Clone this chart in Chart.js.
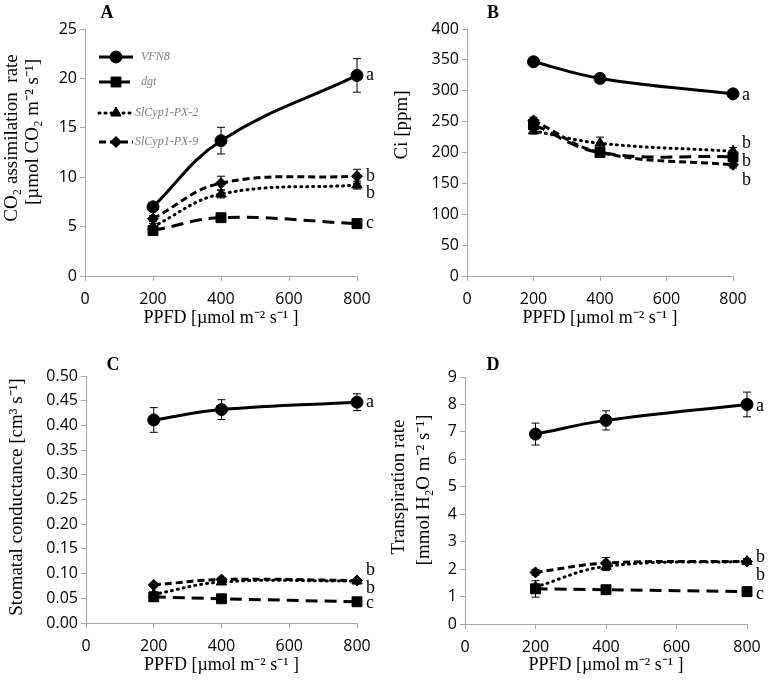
<!DOCTYPE html>
<html><head><meta charset="utf-8">
<script src="https://cdn.jsdelivr.net/npm/chart.js@4.4.0/dist/chart.umd.min.js"></script>
<style>
body{margin:0;background:#fff;width:771px;height:684px;position:relative;overflow:hidden}
.p{position:absolute}
</style></head><body>
<div class="p" style="left:0;top:0"><canvas id="cA" width="390" height="340"></canvas></div>
<div class="p" style="left:390px;top:0"><canvas id="cB" width="381" height="340"></canvas></div>
<div class="p" style="left:0;top:340px"><canvas id="cC" width="390" height="344"></canvas></div>
<div class="p" style="left:390px;top:340px"><canvas id="cD" width="381" height="344"></canvas></div>
<script>
// PPFD levels (x) and series
const PPFD=[200,400,800];
const NAMES=['VFN8','dgt','SlCyp1-PX-2','SlCyp1-PX-9'];

// A: CO2 assimilation
const A_VFN8=[7.0,13.7,20.3], A_DGT=[4.6,5.9,5.3], A_PX2=[5.0,8.3,9.2], A_PX9=[5.8,9.4,10.1];
const A_ERR=[[0.3,1.35,1.7],[0.3,0.2,0.2],[0.3,0.4,0.4],[0.3,0.7,0.7]];
const A_LET=[['a',20.3],['b',10.1],['b',8.4],['c',5.3]];
// B: Ci
const B_VFN8=[347,320,295], B_DGT=[245,200,193], B_PX2=[235,215,202], B_PX9=[252,200,180];
const B_ERR=[[3,4,4],[5,5,5],[5,10,6],[5,5,5]];
const B_LET=[['a',292],['b',215],['b',185],['b',155]];
// C: stomatal conductance
const C_VFN8=[0.411,0.432,0.447], C_DGT=[0.053,0.049,0.043], C_PX2=[0.058,0.083,0.085], C_PX9=[0.077,0.088,0.086];
const C_ERR=[[0.025,0.02,0.017],[0.004,0.003,0.003],[0.004,0.005,0.004],[0.004,0.004,0.004]];
const C_LET=[['a',0.447],['b',0.107],['b',0.071],['c',0.040]];
// D: transpiration
const D_VFN8=[6.92,7.42,8.0], D_DGT=[1.28,1.25,1.18], D_PX2=[1.35,2.1,2.28], D_PX9=[1.88,2.22,2.28];
const D_ERR=[[0.4,0.35,0.45],[0.3,0.1,0.1],[0.1,0.15,0.1],[0.1,0.2,0.1]];
const D_LET=[['a',7.95],['b',2.44],['b',1.79],['c',1.08]];

const STY=[
  {dash:[],pt:'circle',r:6,cap:'butt'},
  {dash:[12,7],pt:'rect',r:7,cap:'butt'},
  {dash:[1,5],pt:'triangle',r:6,cap:'round'},
  {dash:[7,4],pt:'rectRot',r:5.5,cap:'butt'}
];
const TICKF={family:'Open Sans',size:16};
const SERIF='Liberation Serif';
const AXC='#a6a6a6';

const errPlugin={id:'err',afterDatasetsDraw(ch){
  const o=ch.options.plugins.err;if(!o)return;
  const c=ch.ctx,xs=ch.scales.x,ys=ch.scales.y;
  c.save();c.strokeStyle='#000';c.lineWidth=1;
  ch.data.datasets.forEach((ds,i)=>{
    ds.data.forEach((p,j)=>{
      const e=o.err[i][j];const x=xs.getPixelForValue(p.x);
      const y1=ys.getPixelForValue(p.y+e),y2=ys.getPixelForValue(p.y-e);
      c.beginPath();c.moveTo(x,y1);c.lineTo(x,y2);
      c.moveTo(x-4,y1);c.lineTo(x+4,y1);c.moveTo(x-4,y2);c.lineTo(x+4,y2);c.stroke();
    });
  });
  c.restore();
}};
const letPlugin={id:'lets',afterDraw(ch){
  const o=ch.options.plugins.lets;if(!o)return;
  const c=ch.ctx,xs=ch.scales.x,ys=ch.scales.y;
  c.save();c.fillStyle='#000';c.font=`18px '${SERIF}'`;c.textBaseline='middle';c.textAlign='left';
  o.list.forEach(([t,v])=>c.fillText(t,xs.getPixelForValue(800)+9,ys.getPixelForValue(v)));
  c.font=`bold 18px '${SERIF}'`;c.textAlign='center';
  c.fillText(o.panel,o.px,o.py);
  // rotated y-axis title
  c.font=`19px '${SERIF}'`;c.textBaseline='alphabetic';
  o.yt.forEach(([t,bx,cy])=>{c.save();c.translate(bx,cy);c.rotate(-Math.PI/2);c.fillText(t,0,0);c.restore();});
  if(o.legend){
    const ys2=[57,82,113,142];
    ch.data.datasets.forEach((ds,i)=>{
      const y=ys2[i],s=STY[i];
      c.save();c.strokeStyle='#000';c.lineWidth=3;c.setLineDash(s.dash);c.lineCap=s.cap;
      c.beginPath();c.moveTo(99,y);c.lineTo(133,y);c.stroke();c.restore();
      Chart.helpers.drawPoint(c,{pointStyle:s.pt,radius:s.r,borderWidth:1},116,y);
      c.fillStyle='#000';c.fill();
      c.fillStyle='#7f7f7f';c.font=`italic 12px '${SERIF}'`;c.textAlign='left';c.textBaseline='middle';
      c.fillText(NAMES[i],i<2?141:135,y);
    });
  }
  c.restore();
}};

function mk(id,vals,err,lets,ymax,step,yt,yw,pad,panel,px,py,dec,legend){
  const datasets=vals.map((v,i)=>({
    label:NAMES[i],data:v.map((y,j)=>({x:PPFD[j],y})),
    borderColor:'#000',backgroundColor:'#000',borderWidth:3,borderDash:STY[i].dash,borderCapStyle:STY[i].cap,
    pointStyle:STY[i].pt,pointRadius:STY[i].r,pointHoverRadius:STY[i].r,pointBorderWidth:1,
    tension:0.4,clip:false
  }));
  return new Chart(document.getElementById(id),{
    type:'line',data:{datasets},
    plugins:[errPlugin,letPlugin],
    options:{responsive:false,animation:false,events:[],
      layout:{padding:{top:pad.top,right:pad.right,left:0,bottom:pad.bottom}},
      plugins:{legend:{display:false},tooltip:{enabled:false},
        err:{err},lets:{list:lets,panel,px,py,legend,yt}},
      scales:{
        x:{type:'linear',min:0,max:800,afterFit:s=>{s.height=pad.xh},
          ticks:{stepSize:200,color:'#000',font:TICKF,padding:9},
          grid:{drawOnChartArea:false,color:AXC,tickLength:5},border:{color:AXC,width:1},
          title:{display:true,text:'PPFD [µmol m⁻² s⁻¹ ]',color:'#000',font:{family:SERIF,size:18},padding:0}},
        y:{min:0,max:ymax,afterFit:s=>{s.width=yw},
          ticks:{stepSize:step,color:'#000',font:TICKF,padding:3,callback:v=>dec?v.toFixed(dec):v},
          grid:{drawOnChartArea:false,color:AXC,tickLength:5},border:{color:AXC,width:1},
          title:{display:false}}
      }
    }
  });
}

mk('cA',[A_VFN8,A_DGT,A_PX2,A_PX9],A_ERR,A_LET,25,5,
  [['CO₂ assimilation  rate',17,138],['[µmol CO₂ m⁻² s⁻¹]',38,132]],85,
  {top:29,right:33,bottom:11,xh:53},'A',107,13,0,true);
mk('cB',[B_VFN8,B_DGT,B_PX2,B_PX9],B_ERR,B_LET,400,50,
  [['Ci [ppm]',17,125]],77,
  {top:29,right:38,bottom:11,xh:53},'B',103,13,0,false);
mk('cC',[C_VFN8,C_DGT,C_PX2,C_PX9],C_ERR,C_LET,0.5,0.05,
  [['Stomatal conductance [cm³ s⁻¹]',22,157]],86,
  {top:36,right:33,bottom:8,xh:53},'C',113,25,2,false);
mk('cD',[D_VFN8,D_DGT,D_PX2,D_PX9],D_ERR,D_LET,9,1,
  [['Transpiration rate',14,147],['[mmol H₂O m⁻² s⁻¹]',39,150]],75,
  {top:37,right:24,bottom:8,xh:52},'D',103,25,0,false);
</script>
</body></html>
